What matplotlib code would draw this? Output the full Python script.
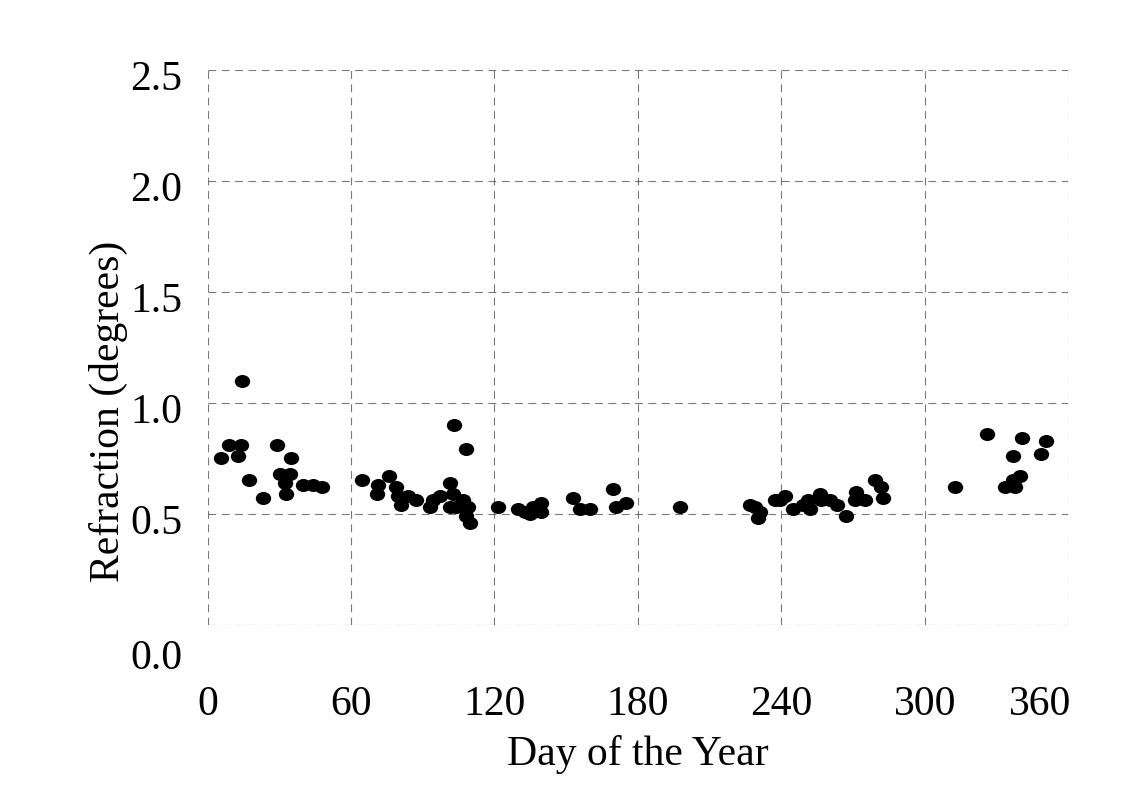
import matplotlib
matplotlib.use("Agg")
import matplotlib.pyplot as plt
import matplotlib.transforms as mtransforms
from matplotlib.markers import MarkerStyle

# refraction measurements, day of year vs degrees
day = [5.7, 8.9, 12.7, 14.1, 14.4, 17.2, 23.1, 29.0, 30.1, 32.2, 32.9, 34.3, 35.0,
       39.9, 44.1, 48.0,
       64.7, 71.0, 71.5, 75.7, 78.7, 79.6, 81.0, 83.8, 87.3, 92.9, 94.3, 97.1,
       101.3, 101.5, 102.6, 103.0, 104.0, 106.8, 108.2, 108.2, 108.9, 109.9,
       121.5, 129.8, 132.6, 134.7, 136.1, 139.5, 139.5, 152.9, 155.6, 159.8,
       169.6, 171.0, 175.2, 197.5,
       226.8, 228.9, 230.3, 231.0, 237.2, 239.3, 241.4, 244.9, 249.1, 251.2, 251.9,
       256.1, 256.8, 260.3, 263.1, 267.2, 270.7, 271.4, 274.9, 279.1, 281.8, 282.5,
       312.6, 326.0, 333.5, 337.0, 337.0, 337.7, 339.8, 340.8, 348.8, 350.9]
refraction = [0.75, 0.81, 0.76, 0.81, 1.10, 0.65, 0.57, 0.81, 0.68, 0.64, 0.59, 0.68, 0.75,
              0.63, 0.63, 0.62,
              0.65, 0.59, 0.63, 0.67, 0.62, 0.58, 0.54, 0.58, 0.56, 0.53, 0.56, 0.58,
              0.53, 0.64, 0.59, 0.90, 0.53, 0.56, 0.79, 0.49, 0.53, 0.46,
              0.53, 0.52, 0.51, 0.50, 0.53, 0.55, 0.51, 0.57, 0.52, 0.52,
              0.61, 0.53, 0.55, 0.53,
              0.54, 0.53, 0.48, 0.51, 0.56, 0.56, 0.58, 0.52, 0.54, 0.56, 0.52,
              0.59, 0.56, 0.56, 0.54, 0.49, 0.56, 0.60, 0.56, 0.65, 0.62, 0.57,
              0.62, 0.86, 0.62, 0.76, 0.65, 0.62, 0.67, 0.84, 0.77, 0.83]

x_ticks = [0, 60, 120, 180, 240, 300, 360]
y_ticks = [0.0, 0.5, 1.0, 1.5, 2.0, 2.5]

plt.rcParams['font.family'] = ['Liberation Serif', 'DejaVu Serif']

fig = plt.figure(figsize=(11.28, 8.05), dpi=100)
ax = fig.add_axes([0.184, 0.224, 0.763, 0.689])

dot = MarkerStyle('o', transform=mtransforms.Affine2D().scale(1.18, 1.0))
ax.scatter(day, refraction, marker=dot, s=88, color='black', linewidths=0, zorder=3)

ax.set_xlim(0, 360)
ax.set_ylim(0, 2.5)
ax.set_xticks(x_ticks)
ax.set_yticks(y_ticks)
ax.set_xticklabels([str(t) for t in x_ticks])
ax.set_yticklabels(['%.1f' % t for t in y_ticks])
ax.tick_params(axis='both', length=0, labelsize=30)
ax.tick_params(axis='x', pad=44)
ax.tick_params(axis='y', pad=18)

# small shifts of the printed labels (pixels)
def nudge(lbl, dx, dy):
    off = mtransforms.ScaledTranslation(dx / 100, dy / 100, fig.dpi_scale_trans)
    lbl.set_transform(lbl.get_transform() + off)

for i, lbl in enumerate(ax.get_yticklabels()):
    nudge(lbl, 0, -30 if i == 0 else -5)
nudge(ax.get_xticklabels()[-1], -28, 0)

for s in ax.spines.values():
    s.set_visible(False)
ax.grid(True, color='0.25', linestyle=(0, (7, 5)), linewidth=0.8, alpha=0.7)
ax.set_axisbelow(True)

ax.set_xlabel('Day of the Year', fontsize=30, labelpad=8)
ax.set_ylabel('Refraction (degrees)', fontsize=30)
ax.yaxis.set_label_coords(-0.093, 0.384)

fig.savefig('out.png', dpi=100, facecolor='white')
